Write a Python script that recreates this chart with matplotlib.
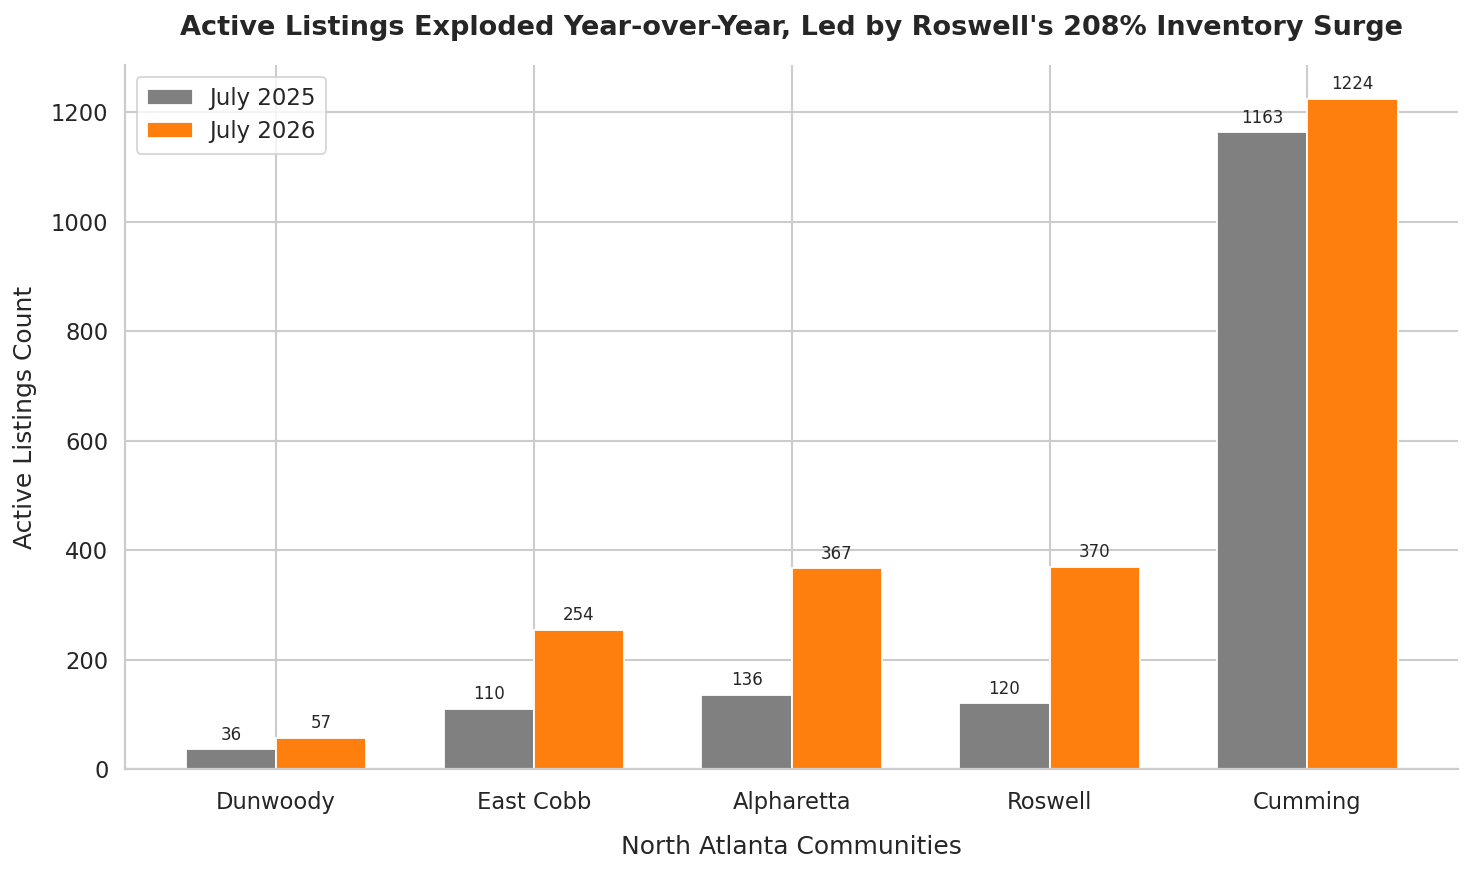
import matplotlib
matplotlib.use('agg')
import matplotlib.pyplot as plt
import seaborn as sns
import numpy as np

communities = ["Dunwoody", "East Cobb", "Alpharetta", "Roswell", "Cumming"]
listings_2025 = [36, 110, 136, 120, 1163]
listings_2026 = [57, 254, 367, 370, 1224]

sns.set_theme(style="whitegrid")
plt.rcParams['font.family'] = ['DejaVu Sans']
plt.rcParams['grid.linewidth'] = 1.5
plt.rcParams['axes.linewidth'] = 1.6
plt.rcParams['patch.linewidth'] = 1.3

fig, ax = plt.subplots(figsize=(14.73, 8.72), dpi=100)
x = np.arange(len(communities))
width = 0.35

bars1 = ax.bar(x - width / 2, listings_2025, width, label="July 2025", color="gray")
bars2 = ax.bar(x + width / 2, listings_2026, width, label="July 2026", color="#ff7f0e")

for bars in (bars1, bars2):
    for b in bars:
        h = b.get_height()
        ax.annotate(f"{int(h)}", xy=(b.get_x() + b.get_width() / 2, h),
                    xytext=(0, 4), textcoords="offset points",
                    ha="center", va="bottom", fontsize=12)

ax.set_title("Active Listings Exploded Year-over-Year, Led by Roswell's 208% Inventory Surge",
             fontsize=19.5, fontweight="bold", pad=22)
ax.set_xlabel("North Atlanta Communities", fontsize=18, labelpad=15)
ax.set_ylabel("Active Listings Count", fontsize=18, labelpad=10)
ax.set_xticks(x)
ax.set_xticklabels(communities)
ax.tick_params(axis="both", labelsize=16.3)
ax.tick_params(axis="x", pad=10)
ax.tick_params(axis="y", pad=6)
ax.legend(loc="upper left", fontsize=16.5, labelspacing=0.45, borderpad=0.45,
          handletextpad=0.7)
sns.despine()

plt.subplots_adjust(left=0.085, right=0.99, top=0.925, bottom=0.118)
plt.savefig("out.png")
